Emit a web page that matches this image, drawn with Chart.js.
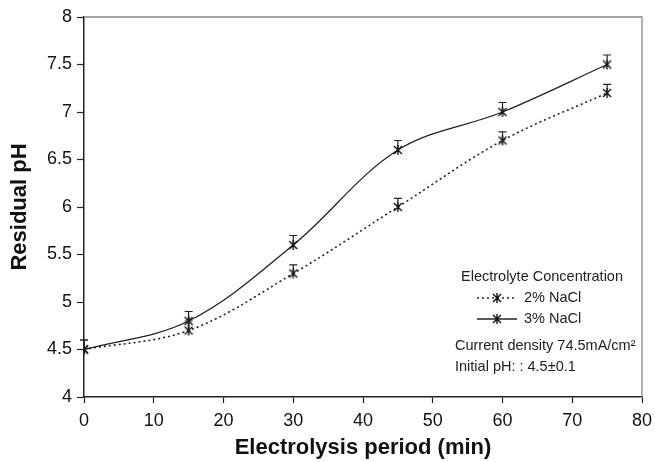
<!DOCTYPE html>
<html>
<head>
<meta charset="utf-8">
<script src="https://cdn.jsdelivr.net/npm/chart.js@4.4.1/dist/chart.umd.min.js"></script>
<style>
  html, body { margin: 0; padding: 0; background: #fff; }
  #wrap { width: 655px; height: 462px; }
</style>
</head>
<body>
<div id="wrap"><canvas id="myChart" width="655" height="462"></canvas></div>
<script>
// Electrolysis period (min)
var minutes = [0, 15, 30, 45, 60, 75];
// Residual pH for each concentration
var nacl2 = [4.5, 4.7, 5.3, 6.0, 6.7, 7.2];
var nacl3 = [4.5, 4.8, 5.6, 6.6, 7.0, 7.5];
// upper error bars
var err2 = [0.1, 0.1, 0.09, 0.09, 0.09, 0.09];
var err3 = [0.1, 0.1, 0.1, 0.1, 0.1, 0.1];
var yTicks = [4, 4.5, 5, 5.5, 6, 6.5, 7, 7.5, 8];

var FONT = '"Liberation Sans", Arial, sans-serif';

// asterisk-like marker (x with a vertical stroke)
function makeMarker() {
  var c = document.createElement('canvas');
  c.width = 12; c.height = 12;
  var g = c.getContext('2d');
  g.strokeStyle = '#111';
  g.lineWidth = 1.4;
  g.beginPath();
  g.moveTo(2, 2); g.lineTo(10, 10);
  g.moveTo(10, 2); g.lineTo(2, 10);
  g.moveTo(6, 1); g.lineTo(6, 11);
  g.stroke();
  return c;
}
var marker = makeMarker();

function pts(vals) {
  return minutes.map(function (m, i) { return { x: m, y: vals[i] }; });
}

var errorBars = {
  id: 'errorBars',
  afterDatasetsDraw: function (chart) {
    var ctx = chart.ctx, xs = chart.scales.x, ys = chart.scales.y;
    ctx.save();
    ctx.strokeStyle = '#222';
    ctx.lineWidth = 1.2;
    chart.data.datasets.forEach(function (ds) {
      ds.data.forEach(function (p, i) {
        var px = xs.getPixelForValue(p.x);
        var y0 = ys.getPixelForValue(p.y);
        var y1 = ys.getPixelForValue(p.y + ds.err[i]);
        ctx.beginPath();
        ctx.moveTo(px, y0); ctx.lineTo(px, y1);
        ctx.moveTo(px - 4, y1); ctx.lineTo(px + 4, y1);
        ctx.stroke();
      });
    });
    ctx.restore();
  }
};

var frameAndNotes = {
  id: 'frameAndNotes',
  afterDraw: function (chart) {
    var ctx = chart.ctx, a = chart.chartArea;
    ctx.save();
    // top and right frame
    ctx.strokeStyle = '#888';
    ctx.lineWidth = 1.3;
    ctx.beginPath();
    ctx.moveTo(a.left, a.top); ctx.lineTo(a.right, a.top); ctx.lineTo(a.right, a.bottom);
    ctx.stroke();

    ctx.fillStyle = '#222';
    ctx.font = '14.5px ' + FONT;
    ctx.textBaseline = 'middle';
    ctx.textAlign = 'left';
    ctx.fillText('Electrolyte Concentration', 461, 277);

    var rows = [298, 319];
    chart.data.datasets.forEach(function (ds, i) {
      var y = rows[i];
      ctx.strokeStyle = '#222';
      ctx.lineWidth = 1.4;
      ctx.setLineDash(ds.borderDash || []);
      ctx.beginPath();
      ctx.moveTo(477, y); ctx.lineTo(517, y);
      ctx.stroke();
      ctx.setLineDash([]);
      ctx.drawImage(marker, 497 - 6, y - 6);
      ctx.fillText(ds.label, 524, y);
    });

    ctx.fillText('Current density 74.5mA/cm\u00B2', 455, 346);
    ctx.fillText('Initial pH: : 4.5\u00B10.1', 455, 367);
    ctx.restore();
  }
};

new Chart(document.getElementById('myChart'), {
  type: 'line',
  data: {
    datasets: [
      {
        label: '2% NaCl',
        data: pts(nacl2),
        err: err2,
        borderColor: '#222',
        borderWidth: 1.6,
        borderDash: [2, 3],
        tension: 0.35,
        pointStyle: marker,
        fill: false
      },
      {
        label: '3% NaCl',
        data: pts(nacl3),
        err: err3,
        borderColor: '#222',
        borderWidth: 1.3,
        tension: 0.35,
        pointStyle: marker,
        fill: false
      }
    ]
  },
  options: {
    responsive: false,
    animation: false,
    layout: { padding: { top: 17, right: 13, left: 0, bottom: 0 } },
    plugins: { legend: { display: false }, tooltip: { enabled: false } },
    scales: {
      x: {
        type: 'linear',
        min: 0, max: 80,
        ticks: { stepSize: 10, color: '#111', padding: 7,
                 font: { family: FONT, size: 18 } },
        grid: { display: true, drawOnChartArea: false, tickLength: 6, color: '#222', tickWidth: 1.2 },
        border: { color: '#222', width: 1.5 },
        title: { display: true, text: 'Electrolysis period (min)', color: '#111',
                 padding: { top: 0, bottom: 1 },
                 font: { family: FONT, size: 22, weight: 'bold' } },
        afterFit: function (s) { s.height = 65; s.paddingLeft = 0; s.paddingRight = 0; }
      },
      y: {
        min: 4, max: 8,
        afterBuildTicks: function (s) { s.ticks = yTicks.map(function (v) { return { value: v }; }); },
        ticks: { color: '#111', padding: 5,
                 callback: function (v) { return String(v); },
                 font: { family: FONT, size: 18 } },
        grid: { display: true, drawOnChartArea: false, tickLength: 7, color: '#222', tickWidth: 1.2 },
        border: { color: '#222', width: 1.5 },
        title: { display: true, text: 'Residual pH', color: '#111',
                 padding: { top: 7, bottom: 0 },
                 font: { family: FONT, size: 22, weight: 'bold' } },
        afterFit: function (s) { s.width = 84; }
      }
    }
  },
  plugins: [errorBars, frameAndNotes]
});
</script>
</body>
</html>
